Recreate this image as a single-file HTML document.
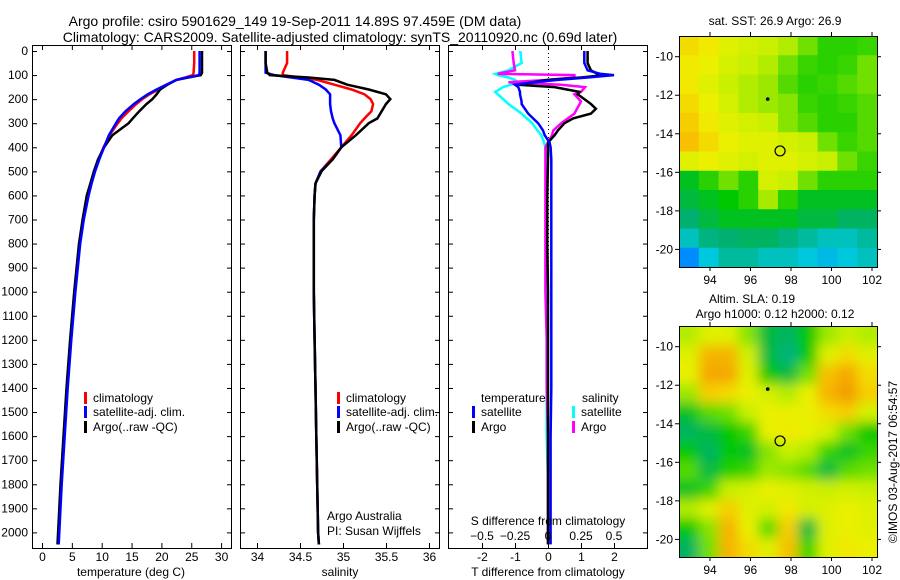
<!DOCTYPE html>
<html><head><meta charset="utf-8"><style>
body{margin:0;background:#fff;}
svg{display:block;font-family:"Liberation Sans",sans-serif;}
</style></head><body>
<svg id="fig" width="900" height="580" viewBox="0 0 900 580" xmlns="http://www.w3.org/2000/svg">
<text x="295" y="26" font-size="14" text-anchor="middle">Argo profile: csiro 5901629_149 19-Sep-2011 14.89S 97.459E (DM data)</text>
<text x="340" y="42" font-size="14" text-anchor="middle">Climatology: CARS2009. Satellite-adjusted climatology: synTS_20110920.nc (0.69d later)</text>
<g id="g"></g>
</svg>
<script>
// ---- data ----
const depths = [0,50,90,100,110,120,140,160,180,200,220,250,280,300,350,400,450,500,550,600,700,800,900,1000,1200,1400,1600,1800,2000,2050];
const tempClim = [25.5,25.5,25.4,25.3,24,22.5,21,19.5,18,16.8,15.8,14.5,13.3,12.7,11.3,10.3,9.5,8.8,8.2,7.6,6.9,6.3,5.9,5.5,4.8,4.2,3.7,3.2,2.8,2.7];
const tempSat = [26.4,26.4,26.4,26.3,24.3,22.5,20.8,19.2,17.7,16.5,15.4,14,12.9,12.4,11.2,10.4,9.6,8.9,8.3,7.8,7.0,6.4,6.0,5.6,4.9,4.3,3.8,3.3,2.9,2.8];
const tempArgo = [26.8,26.8,26.8,26.6,24.5,22.5,21,19.8,19.2,18.5,17.5,16.3,15.2,14.5,11.8,10.4,9.4,8.7,8.1,7.5,6.8,6.2,5.8,5.4,4.7,4.1,3.6,3.1,2.7,2.6];
const salClim = [34.35,34.35,34.3,34.3,34.5,34.7,34.9,35.1,35.25,35.32,35.35,35.33,35.25,35.2,35.1,34.98,34.86,34.74,34.68,34.67,34.66,34.66,34.66,34.66,34.67,34.68,34.69,34.7,34.71,34.72];
const salSat = [34.1,34.1,34.1,34.2,34.4,34.6,34.72,34.8,34.85,34.85,34.85,34.86,34.88,34.9,34.97,34.98,34.88,34.74,34.68,34.67,34.66,34.66,34.66,34.66,34.67,34.68,34.69,34.7,34.71,34.72];
const salArgo = [34.1,34.1,34.12,34.15,34.6,34.9,35.05,35.3,35.5,35.55,35.5,35.45,35.4,35.3,35.15,34.98,34.88,34.75,34.68,34.67,34.66,34.66,34.66,34.66,34.67,34.68,34.69,34.7,34.71,34.72];
const diffDepths = [0,50,80,95,100,110,120,130,140,150,170,180,210,220,240,260,280,300,330,350,380,400,450,600,800,1000,1200,1400,1600,1800,2000,2050];
const tDiffSat = [1.1,1.1,1.2,1.6,2.0,1.2,0.3,-0.4,-1.0,-0.9,-0.85,-0.85,-0.8,-0.8,-0.7,-0.6,-0.45,-0.3,-0.15,-0.1,0.05,0.08,0.1,0.1,0.1,0.1,0.1,0.1,0.08,0.08,0.08,0.08];
const tDiffArgo = [1.2,1.2,1.3,1.5,1.7,1.0,0.0,-0.5,-0.9,0.2,0.95,0.9,1.2,1.3,1.45,1.3,0.76,0.5,0.3,0.2,0.0,0.0,0.0,-0.02,-0.02,0.0,0.0,0.0,0.0,0.0,0.0,0.0];
const sDiffSat = [-0.21,-0.2,-0.3,-0.4,-0.38,-0.3,-0.25,-0.23,-0.28,-0.34,-0.4,-0.38,-0.32,-0.3,-0.25,-0.2,-0.16,-0.12,-0.08,-0.05,-0.03,-0.02,-0.01,-0.01,-0.01,-0.01,-0.01,-0.01,-0.01,0,0,0];
const sDiffArgo = [-0.27,-0.26,-0.25,-0.38,0.2,0.2,0.0,-0.3,0.1,0.28,0.25,0.2,0.25,0.24,0.22,0.2,0.15,0.1,0.04,0.03,0.0,-0.02,-0.02,-0.02,-0.02,-0.02,-0.01,-0.01,0,0,0,0];
const depthTicks = [0,100,200,300,400,500,600,700,800,900,1000,1100,1200,1300,1400,1500,1600,1700,1800,1900,2000];
const tempTicks = [0,5,10,15,20,25,30];
const salTicks = [34,34.5,35,35.5,36];
const tDiffTicks = [-2,-1,0,1,2];
const sDiffTicks = [-0.5,-0.25,0,0.25,0.5];
const lonTicks = [94,96,98,100,102];
const latTicks = [-10,-12,-14,-16,-18,-20];
const sstGrid = [
[.78,.76,.72,.70,.68,.66,.60,.55,.55,.56],
[.76,.74,.70,.68,.66,.60,.56,.55,.56,.60],
[.76,.72,.68,.66,.64,.58,.55,.56,.58,.60],
[.78,.74,.70,.66,.64,.62,.56,.55,.56,.58],
[.80,.76,.72,.70,.68,.62,.58,.55,.55,.58],
[.82,.78,.74,.72,.72,.70,.68,.60,.56,.58],
[.72,.74,.72,.70,.72,.72,.70,.68,.60,.56],
[.50,.55,.60,.55,.70,.68,.60,.55,.55,.55],
[.48,.50,.52,.55,.65,.55,.50,.50,.50,.50],
[.45,.48,.50,.50,.50,.50,.48,.48,.46,.46],
[.40,.44,.45,.46,.46,.44,.42,.40,.40,.42],
[.30,.38,.42,.42,.40,.40,.38,.36,.38,.40]];
const slaGrid = [
[.66,.72,.72,.62,.48,.46,.52,.64,.68,.66],
[.72,.84,.84,.70,.48,.44,.52,.72,.78,.72],
[.74,.86,.86,.72,.52,.48,.60,.82,.86,.78],
[.64,.80,.78,.74,.70,.66,.74,.84,.88,.80],
[.50,.58,.60,.68,.74,.74,.74,.78,.80,.70],
[.46,.48,.52,.56,.74,.76,.74,.70,.60,.52],
[.52,.46,.52,.50,.62,.68,.66,.56,.50,.56],
[.58,.48,.54,.56,.64,.62,.58,.48,.58,.60],
[.50,.56,.68,.70,.74,.72,.70,.68,.70,.68],
[.66,.72,.80,.72,.70,.76,.70,.72,.74,.72],
[.52,.62,.84,.74,.58,.80,.48,.72,.74,.72],
[.46,.60,.84,.78,.72,.82,.56,.72,.76,.74]];
const argoPos = [97.46,-14.89];
const prevPos = [96.85,-12.2];

// ---- helpers ----
const NS="http://www.w3.org/2000/svg";
const G=document.getElementById('g');
function el(tag,attrs,parent){const e=document.createElementNS(NS,tag);for(const k in attrs)e.setAttribute(k,attrs[k]);(parent||G).appendChild(e);return e;}
function txt(x,y,s,anchor,size,parent){const t=el('text',{x:x,y:y,'font-size':size||12,'text-anchor':anchor||'start'},parent);t.textContent=s;return t;}
const PT=45,PB=548;
const yD=d=>51+d*0.2407;
function panel(x0,x1,name){
  const r=el('rect',{x:x0+.5,y:PT+.5,width:x1-x0,height:PB-PT,fill:'none',stroke:'#000','stroke-width':1});
  
  
  depthTicks.forEach(d=>{const y=yD(d)+.5;
    const a=el('line',{x1:x0,x2:x0+5,y1:y,y2:y,stroke:'#000'});
    const b=el('line',{x1:x1-4,x2:x1+1,y1:y,y2:y,stroke:'#000'});
    
    
  });
}
function xTicks(fx,ticks,labels,yLab,name){
  ticks.forEach((v,i)=>{const x=fx(v)+.5;
    const a=el('line',{x1:x,x2:x,y1:PB-5,y2:PB+1,stroke:'#000'});
    
    const b=el('line',{x1:x,x2:x,y1:PT,y2:PT+5,stroke:'#000'});
    
    const t=txt(x,yLab,labels[i],'middle',12);
    
  });
}
function line(fx,vals,dep,color,name,w){
  const pts=vals.map((v,i)=>fx(v).toFixed(1)+','+yD(dep[i]).toFixed(1)).join(' ');
  const p=el('polyline',{points:pts,fill:'none',stroke:color,'stroke-width':w||2.5,'stroke-linejoin':'miter'});
  
  
}
function legend(x,y,color,label,name){
  const r=el('rect',{x:x,y:y-10,width:3,height:12,fill:color});
  
  const t=txt(x+9,y,label,'start',12);
  
}

depthTicks.forEach(d=>{const t=txt(28,yD(d)+4,String(d),'end',12);
  });

// Panel 1 temperature
const fT=v=>42+v*5.97;
panel(32,231,'temperature-panel');
xTicks(fT,tempTicks,tempTicks.map(String),561,'temperature');
let t1=txt(131,576,'temperature (deg C)','middle',12);
line(fT,tempClim,depths,'#f00','temperature-climatology-line');
line(fT,tempArgo,depths,'#000','temperature-argo-line');
line(fT,tempSat,depths,'#00f','temperature-satellite-line');
legend(84,402,'#f00','climatology','temp-legend-climatology');
legend(84,416,'#00f','satellite-adj. clim.','temp-legend-satellite');
legend(84,431,'#000','Argo(..raw -QC)','temp-legend-argo');

// Panel 2 salinity
const fS=v=>257+(v-34)*86;
panel(240,439,'salinity-panel');
xTicks(fS,salTicks,salTicks.map(String),561,'salinity');
let t2=txt(340,576,'salinity','middle',12);
line(fS,salClim,depths,'#f00','salinity-climatology-line');
line(fS,salSat,depths,'#00f','salinity-satellite-line');
line(fS,salArgo,depths,'#000','salinity-argo-line');
legend(337,402,'#f00','climatology','sal-legend-climatology');
legend(337,416,'#00f','satellite-adj. clim.','sal-legend-satellite');
legend(337,431,'#000','Argo(..raw -QC)','sal-legend-argo');
let a1=txt(327,520,'Argo Australia','start',12);
let a2=txt(327,535,'PI: Susan Wijffels','start',12);

// Panel 3 differences
const fTD=v=>548+v*33;
const fSD=v=>548+v*132;
panel(448,647,'difference-panel');
xTicks(fTD,tDiffTicks,tDiffTicks.map(String),561,'t-difference');
let t3=txt(548,576,'T difference from climatology','middle',12);
const zl=el('line',{x1:548.5,x2:548.5,y1:PT,y2:PB,stroke:'#000','stroke-dasharray':'1,3'});

line(fSD,sDiffSat,diffDepths,'#0ff','s-diff-satellite-line');
line(fSD,sDiffArgo,diffDepths,'#f0f','s-diff-argo-line');
line(fTD,tDiffArgo,diffDepths,'#000','t-diff-argo-line');
line(fTD,tDiffSat,diffDepths,'#00f','t-diff-satellite-line');
let s0=txt(548,525,'S difference from climatology','middle',12);
sDiffTicks.forEach(v=>{const t=txt(fSD(v),540,'','middle',12);
  t.textContent=(v<0?'\u2212':'')+String(Math.abs(v));
  });
let lt=txt(481,402,'temperature','start',12);
let ls=txt(582,402,'salinity','start',12);
legend(472,416,'#00f','satellite','diff-legend-t-satellite');
legend(472,431,'#000','Argo','diff-legend-t-argo');
legend(572,416,'#0ff','satellite','diff-legend-s-satellite');
legend(572,431,'#f0f','Argo','diff-legend-s-argo');

// ---- maps ----
const stops=[[0,[0,0,192]],[.3,[0,140,255]],[.38,[0,200,220]],[.45,[0,176,112]],[.52,[0,200,0]],[.6,[112,224,0]],[.68,[200,240,0]],[.75,[240,240,0]],[.82,[248,192,0]],[.9,[240,144,0]],[1,[220,80,0]]];
function cmap(v){for(let i=1;i<stops.length;i++){if(v<=stops[i][0]){const a=stops[i-1],b=stops[i],f=(v-a[0])/(b[0]-a[0]);
  return 'rgb('+a[1].map((c,k)=>Math.round(c+(b[1][k]-c)*f)).join(',')+')';}}return 'rgb(220,80,0)';}
const MX0=679,MX1=877;
const lonX=l=>710+(l-94)*20.25;
function drawMap(top,grid,name,blur){
  const bottom=top+231;
  const latY=l=>top+20.7+(-10-l)*19.27;
  const grp=el('g',{});
  
  const id='clip'+top;
  const cp=el('clipPath',{id:id},grp);el('rect',{x:MX0,y:top,width:MX1-MX0,height:231},cp);
  const inner=el('g',{'clip-path':'url(#'+id+')'},grp);
  let target=inner;
  if(blur){const f=el('filter',{id:'bl'+top,x:'-0.1',y:'-0.1',width:'1.2',height:'1.2'},grp);el('feGaussianBlur',{stdDeviation:6},f);target=el('g',{filter:'url(#bl'+top+')'},inner);}
  const rows=grid.length,cols=grid[0].length,cw=(MX1-MX0)/cols,ch=231/rows;
  grid.forEach((row,r)=>row.forEach((v,c)=>{
    const cell=el('rect',{x:MX0+c*cw-(blur?12:0)*(c==0),y:top+r*ch-(blur?12:0)*(r==0),width:cw+0.6+(blur&&(c==0||c==cols-1)?12:0),height:ch+0.6+(blur&&(r==0||r==rows-1)?12:0),fill:cmap(v)},target);
    
  }));
  el('rect',{x:MX0+.5,y:top+.5,width:MX1-MX0,height:231,fill:'none',stroke:'#000'},grp);
  latTicks.forEach(l=>{const y=latY(l);
    el('line',{x1:MX0-4,x2:MX0,y1:y,y2:y,stroke:'#000'},grp);
    el('line',{x1:MX1,x2:MX1+4,y1:y,y2:y,stroke:'#000'},grp);
    const t=txt(MX0-6,y+4,(l<0?'-':'')+Math.abs(l),'end',12,grp);
    });
  lonTicks.forEach(l=>{const x=lonX(l);
    el('line',{x1:x,x2:x,y1:bottom,y2:bottom+4,stroke:'#000'},grp);
    el('line',{x1:x,x2:x,y1:top-4,y2:top,stroke:'#000'},grp);
    const t=txt(x,bottom+17,String(l),'middle',12,grp);
    });
  const d=el('circle',{cx:lonX(prevPos[0]),cy:latY(prevPos[1]),r:1.8,fill:'#000'},grp);
  
  const c=el('circle',{cx:lonX(argoPos[0]),cy:latY(argoPos[1]),r:5,fill:'none',stroke:'#000','stroke-width':1.2},grp);
  
}
drawMap(36,sstGrid,'sst-map',false);
drawMap(326,slaGrid,'sla-map',true);
let m1=txt(775,25,'sat. SST: 26.9 Argo: 26.9','middle',12);
let m2=txt(752,303,'Altim. SLA: 0.19','middle',12);
let m3=txt(775,318,'Argo h1000: 0.12 h2000: 0.12','middle',12);
let cr=txt(0,0,'\u00a9IMOS 03-Aug-2017 06:54:57','middle',12);
cr.setAttribute('transform','translate(897,462) rotate(-90)');

</script>
</body></html>
